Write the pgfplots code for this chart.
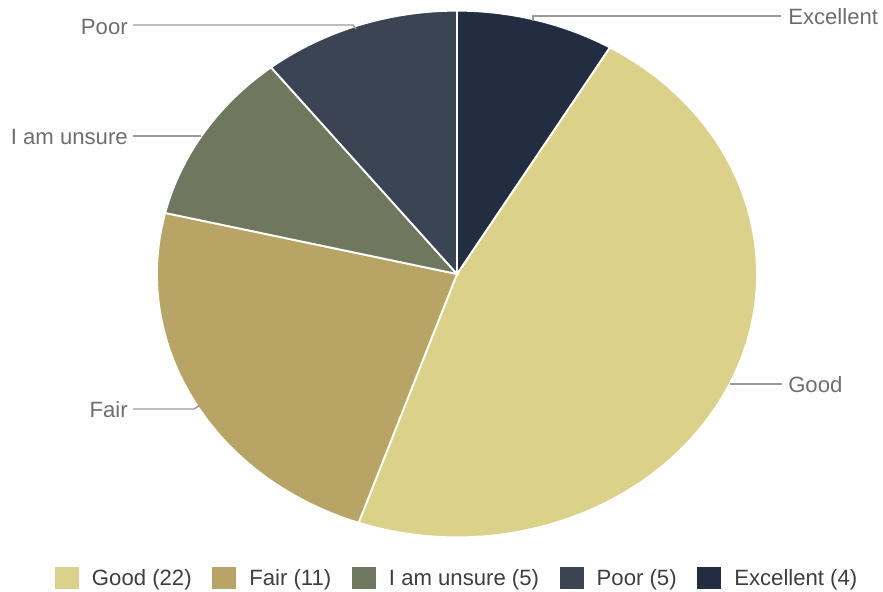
\documentclass[border=0pt]{standalone}
\usepackage{pgfplots}
\usepackage{pgfplotstable}
\usepackage{fontspec}
\setmainfont{Liberation Sans}
\pgfplotsset{compat=1.18}

\definecolor{c0}{HTML}{DCD188}
\definecolor{c1}{HTML}{B8A566}
\definecolor{c2}{HTML}{6F775F}
\definecolor{c3}{HTML}{3B4452}
\definecolor{c4}{HTML}{222D42}
\definecolor{labeltext}{HTML}{6E6E6E}
\definecolor{legtext}{HTML}{3E3E3E}
\definecolor{leader}{HTML}{9A9A9A}

% counts, in legend order
\pgfplotstableread{
label value
Good 22
Fair 11
{I am unsure} 5
Poor 5
Excellent 4
}\piedata

\begin{document}
\begin{tikzpicture}
% slice angles (clockwise, Excellent ends at 12 o'clock)
\def\total{0}
\foreach \i in {0,...,4}{
  \pgfplotstablegetelem{\i}{value}\of\piedata
  \pgfmathsetmacro\t{\total+\pgfplotsretval}
  \xdef\total{\t}
}
\pgfplotstablegetelem{4}{value}\of\piedata
\pgfmathsetmacro\startang{90-360*\pgfplotsretval/\total}
\xdef\cur{\startang}
\foreach \i in {0,...,4}{
  \pgfplotstablegetelem{\i}{value}\of\piedata
  \pgfmathsetmacro\nxt{\cur-360*\pgfplotsretval/\total}
  \expandafter\xdef\csname sa\i\endcsname{\cur}
  \expandafter\xdef\csname ea\i\endcsname{\nxt}
  \xdef\cur{\nxt}
}
\begin{axis}[
    x=0.75pt, y=0.75pt,
    xmin=0, xmax=883, ymin=0, ymax=592,
    hide axis, clip=false,
    legend columns=5,
    legend image code/.code={\fill[#1, draw=none] (0pt,-8.25pt) rectangle (18pt,8.25pt);},
    legend style={
        at={(axis cs:55,14)}, anchor=west,
        draw=none, fill=none, inner sep=0pt, outer sep=0pt,
        font=\fontsize{16.6}{19}\selectfont, text=legtext,
        nodes={inner sep=0pt},
        /tikz/column sep=0pt,
        /tikz/every odd column/.append style={column sep=9.75pt},
        /tikz/every even column/.append style={column sep=15.5pt},
    },
]
\path (axis cs:0,0) rectangle (axis cs:883,592);

\pgfplotsinvokeforeach{0,...,4}{
  \edef\temp{\noexpand\fill[c#1, draw=white, line width=1.4pt]
    (axis cs:457,318) -- ++(\csname sa#1\endcsname:225pt and 197.5pt)
    arc[start angle=\csname sa#1\endcsname, end angle=\csname ea#1\endcsname,
        x radius=225pt, y radius=197.5pt] -- cycle;}
  \temp
}

\addlegendimage{fill=c0}\addlegendentry{Good (22)}
\addlegendimage{fill=c1}\addlegendentry{Fair (11)}
\addlegendimage{fill=c2}\addlegendentry{I am unsure (5)}
\addlegendimage{fill=c3}\addlegendentry{Poor (5)}
\addlegendimage{fill=c4}\addlegendentry{Excellent (4)}

% leader lines and slice labels
\begin{scope}[leader, line width=1.1pt]
\draw (axis cs:533,571) -- (axis cs:533,576) -- (axis cs:781,576);
\draw (axis cs:133,567) -- (axis cs:353,567) -- (axis cs:356,563);
\draw (axis cs:133,456) -- (axis cs:201,456);
\draw (axis cs:133,183) -- (axis cs:194,183) -- (axis cs:200,187);
\draw (axis cs:730,208) -- (axis cs:782,208);
\end{scope}
\begin{scope}[every node/.style={text=labeltext, inner sep=0pt,
    font=\fontsize{16.6}{19}\selectfont}]
\node[anchor=west] at (axis cs:788,575) {Excellent};
\node[anchor=east] at (axis cs:128,565) {Poor};
\node[anchor=east] at (axis cs:128,455) {I am unsure};
\node[anchor=east] at (axis cs:128,182) {Fair};
\node[anchor=west] at (axis cs:788,207) {Good};
\end{scope}
\end{axis}
\end{tikzpicture}
\end{document}
